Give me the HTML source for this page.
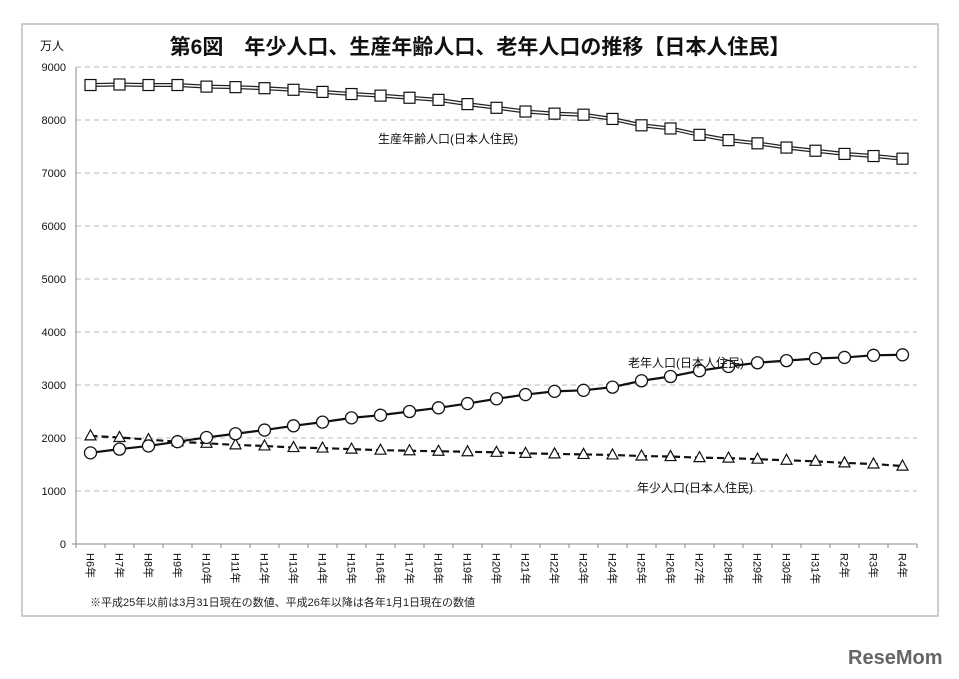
<!DOCTYPE html>
<html><head><meta charset="utf-8"><style>
body{margin:0;background:#fff;width:959px;height:679px;overflow:hidden;font-family:"Liberation Sans","Noto Sans CJK JP",sans-serif;}
</style></head><body>
<svg width="959" height="679" id="chart" style="position:absolute;left:0;top:0">
<rect x="22" y="24" width="916" height="592" fill="#fff" stroke="#bbb" stroke-width="1.5"/>
<text x="480" y="54" text-anchor="middle" font-size="21" font-weight="bold" fill="#111">第6図　年少人口、生産年齢人口、老年人口の推移【日本人住民】</text>
<text x="40" y="50" font-size="12" fill="#111">万人</text>
<text x="90" y="606" font-size="11" fill="#222">※平成25年以前は3月31日現在の数値、平成26年以降は各年1月1日現在の数値</text>
<text x="848" y="664" font-size="20" font-weight="bold" fill="#666">ReseMom</text>
<g id="grid"></g><g id="series"></g>
<text x="378" y="143" font-size="12" fill="#111">生産年齢人口(日本人住民)</text>
<text x="628" y="367" font-size="12" fill="#111">老年人口(日本人住民)</text>
<text x="637" y="492" font-size="12" fill="#111">年少人口(日本人住民)</text>
</svg>
<script>
const categories=["H6年","H7年","H8年","H9年","H10年","H11年","H12年","H13年","H14年","H15年","H16年","H17年","H18年","H19年","H20年","H21年","H22年","H23年","H24年","H25年","H26年","H27年","H28年","H29年","H30年","H31年","R2年","R3年","R4年"];
const workingAge=[8660,8670,8660,8660,8630,8620,8600,8570,8530,8490,8460,8420,8380,8300,8230,8160,8120,8100,8020,7900,7840,7720,7620,7560,7480,7420,7360,7320,7270];
const elderly=[1720,1790,1850,1930,2010,2080,2150,2230,2300,2380,2430,2500,2570,2650,2740,2820,2880,2900,2960,3080,3160,3270,3350,3420,3460,3500,3520,3560,3570];
const youth=[2040,2010,1970,1930,1900,1870,1850,1820,1810,1790,1770,1760,1750,1740,1730,1710,1700,1690,1680,1660,1650,1630,1620,1600,1580,1560,1530,1510,1470];
const yTicks=[0,1000,2000,3000,4000,5000,6000,7000,8000,9000];
const NS="http://www.w3.org/2000/svg";
const X0=76,X1=917,Y0=544,Y1=67,YMAX=9000;
const bw=(X1-X0)/categories.length;
const xs=i=>X0+bw*(i+0.5);
const ys=v=>Y0-(v/YMAX)*(Y0-Y1);
function mk(t,a,p){const e=document.createElementNS(NS,t);for(const k in a)e.setAttribute(k,a[k]);p.appendChild(e);return e;}
const g=document.getElementById('grid'),s=document.getElementById('series');
yTicks.forEach(v=>{
 if(v>0){const l=mk('line',{x1:X0,x2:X1,y1:ys(v),y2:ys(v),stroke:'#bbb','stroke-dasharray':'5,4'},g);
 
 }
 const t=mk('text',{x:X0-10,y:ys(v)+4,'text-anchor':'end','font-size':11,fill:'#111'},g);t.textContent=v;
 
 
});
mk('line',{x1:X0,x2:X0,y1:Y1,y2:Y0,stroke:'#888'},g);
mk('line',{x1:X0-4,x2:X1,y1:Y0,y2:Y0,stroke:'#888'},g);
categories.forEach((c,i)=>{
 mk('line',{x1:X0+bw*i,x2:X0+bw*i,y1:Y0,y2:Y0+4,stroke:'#888'},g);
 const t=mk('text',{transform:`translate(${xs(i)-4},${Y0+9}) rotate(90)`,'font-size':11,fill:'#111'},g);t.textContent=c;
 
 
});
mk('line',{x1:X1,x2:X1,y1:Y0,y2:Y0+4,stroke:'#888'},g);
function pts(d){return d.map((v,i)=>xs(i)+','+ys(v)).join(' ');}
let p=mk('polyline',{points:pts(workingAge),fill:'none',stroke:'#222','stroke-width':4},s);


mk('polyline',{points:pts(workingAge),fill:'none',stroke:'#fff','stroke-width':1.5},s);
p=mk('polyline',{points:pts(youth),fill:'none',stroke:'#111','stroke-width':2.2,'stroke-dasharray':'7,4'},s);


p=mk('polyline',{points:pts(elderly),fill:'none',stroke:'#111','stroke-width':2.2},s);


workingAge.forEach((v,i)=>{const m=mk('rect',{x:xs(i)-5.5,y:ys(v)-5.5,width:11,height:11,fill:'#fff',stroke:'#111','stroke-width':1.2},s);
 
 });
youth.forEach((v,i)=>{const x=xs(i),y=ys(v);const m=mk('polygon',{points:`${x},${y-6} ${x-5.5},${y+4} ${x+5.5},${y+4}`,fill:'#fff',stroke:'#111','stroke-width':1.2},s);
 
 });
elderly.forEach((v,i)=>{const m=mk('circle',{cx:xs(i),cy:ys(v),r:6,fill:'#fff',stroke:'#111','stroke-width':1.3},s);
 
 });
</script>
</body></html>
